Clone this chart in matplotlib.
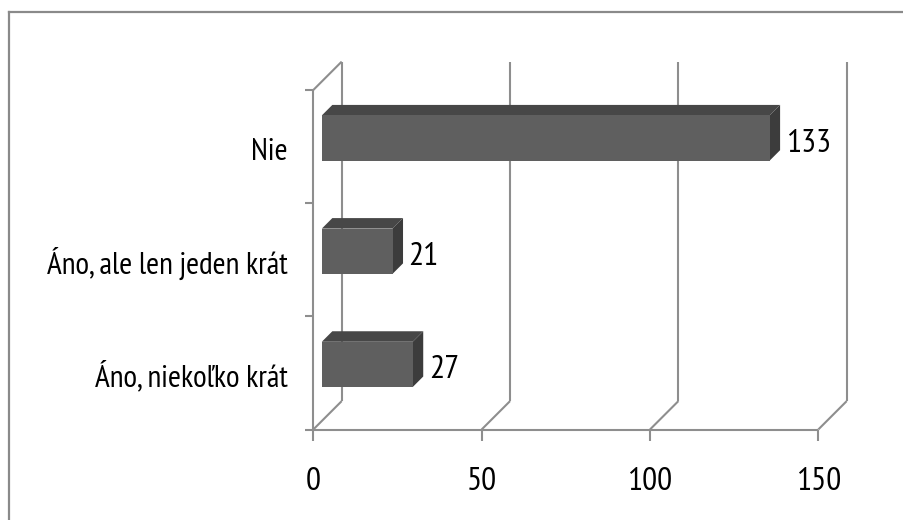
import matplotlib
matplotlib.use("Agg")
import matplotlib.pyplot as plt
from matplotlib.patches import Polygon
from matplotlib.lines import Line2D
from matplotlib.markers import TICKLEFT, TICKDOWN
from matplotlib import font_manager

# ---- data -------------------------------------------------------------
categories = ["Áno, niekoľko krát", "Áno, ale len jeden krát", "Nie"]
values = [27, 21, 133]
x_ticks = [0, 50, 100, 150]
x_tick_labels = ["0", "50", "100", "150"]

# ---- figure -----------------------------------------------------------
W, H, DPI = 904, 520, 100
fig = plt.figure(figsize=(W / DPI, H / DPI), dpi=DPI)
fig.patch.set_facecolor("white")

names = {f.name for f in font_manager.fontManager.ttflist}
FONT = dict(family=["Liberation Sans", "DejaVu Sans"])
for fam in ["PT Sans Narrow", "Archivo Narrow", "Roboto Condensed"]:
    if fam in names:
        FONT = dict(family=[fam, "DejaVu Sans"])
        break

GRID = "#8e8e8e"
LW = 1.5
FRONT, TOP, SIDE = "#5f5f5f", "#474747", "#3c3c3c"

# front wall of the 3-D plot box (pixels from top-left)
left_px, right_px, top_px, floor_px = 313.3, 818.3, 90.0, 429.5
ax = fig.add_axes([left_px / W, (H - floor_px) / H,
                   (right_px - left_px) / W, (floor_px - top_px) / H])
ax.set_xlim(x_ticks[0], x_ticks[-1])
ax.set_ylim(-0.5, len(categories) - 0.5)
ax.axis("off")

# receding depth (45 degrees), expressed in data units
depth_px = 28.4
ddx = depth_px / (ax.bbox.width / (x_ticks[-1] - x_ticks[0]))
ddy = depth_px / (ax.bbox.height / len(categories))
y_lo, y_hi = -0.5, len(categories) - 0.5


def line(xs, ys, **kw):
    ax.plot(xs, ys, color=GRID, lw=LW, solid_capstyle="butt",
            clip_on=False, zorder=1, **kw)


# floor diagonals and back-wall gridlines
for t in x_ticks:
    line([t, t + ddx], [y_lo, y_lo + ddy])
    line([t + ddx, t + ddx], [y_lo + ddy, y_hi + ddy])
# left wall
line([0, 0], [y_lo, y_hi])
line([0, ddx], [y_hi, y_hi + ddy])
# floor front edge
line([x_ticks[0], x_ticks[-1]], [y_lo, y_lo])

# tick marks
ax.plot(x_ticks, [y_lo] * len(x_ticks), ls="none", marker=TICKDOWN,
        markersize=8, markeredgewidth=LW, color=GRID, clip_on=False, zorder=1)
cat_edges = [y_lo + k for k in range(len(categories) + 1)]
ax.plot([0] * len(cat_edges), cat_edges, ls="none", marker=TICKLEFT,
        markersize=6, markeredgewidth=LW, color=GRID, clip_on=False, zorder=1)

# 3-D bars
d0, d1 = 0.30, 0.67     # front / back depth of each bar
half = 0.2              # half bar height in category units
for i, v in enumerate(values):
    fx0, fy0 = d0 * ddx, i + d0 * ddy
    bx0, by0 = d1 * ddx, i + d1 * ddy
    top = Polygon([(fx0, fy0 + half), (fx0 + v, fy0 + half),
                   (bx0 + v, by0 + half), (bx0, by0 + half)],
                  closed=True, facecolor=TOP, edgecolor="none",
                  clip_on=False, zorder=3)
    side = Polygon([(fx0 + v, fy0 - half), (fx0 + v, fy0 + half),
                    (bx0 + v, by0 + half), (bx0 + v, by0 - half)],
                   closed=True, facecolor=SIDE, edgecolor="none",
                   clip_on=False, zorder=3)
    front = Polygon([(fx0, fy0 - half), (fx0 + v, fy0 - half),
                     (fx0 + v, fy0 + half), (fx0, fy0 + half)],
                    closed=True, facecolor=FRONT, edgecolor="none",
                    clip_on=False, zorder=4)
    for p in (top, side, front):
        ax.add_patch(p)
    # value label
    ax.annotate(str(v), xy=(bx0 + v, fy0), xytext=(5.5, -13.5),
                textcoords="offset pixels", ha="left", va="baseline",
                fontsize=24, color="black", annotation_clip=False, **FONT)

# category labels
for i, c in enumerate(categories):
    ax.annotate(c, xy=(0, i), xytext=(-25.5, -13.5),
                textcoords="offset pixels", ha="right", va="baseline",
                fontsize=22.5, color="black", annotation_clip=False, **FONT)

# value axis labels
for t, lab in zip(x_ticks, x_tick_labels):
    ax.annotate(lab, xy=(t, y_lo), xytext=(0, -60),
                textcoords="offset pixels", ha="center", va="baseline",
                fontsize=24, color="black", annotation_clip=False, **FONT)

# outer chart border (top and left edges)
fig.add_artist(Line2D([8.5 / W, 1.0], [1 - 11.7 / H, 1 - 11.7 / H],
                      color="#8a8a8a", lw=1.6, transform=fig.transFigure))
fig.add_artist(Line2D([8.5 / W, 8.5 / W], [0.0, 1 - 11.7 / H],
                      color="#8a8a8a", lw=1.6, transform=fig.transFigure))

fig.savefig("out.png", dpi=DPI, facecolor="white")
